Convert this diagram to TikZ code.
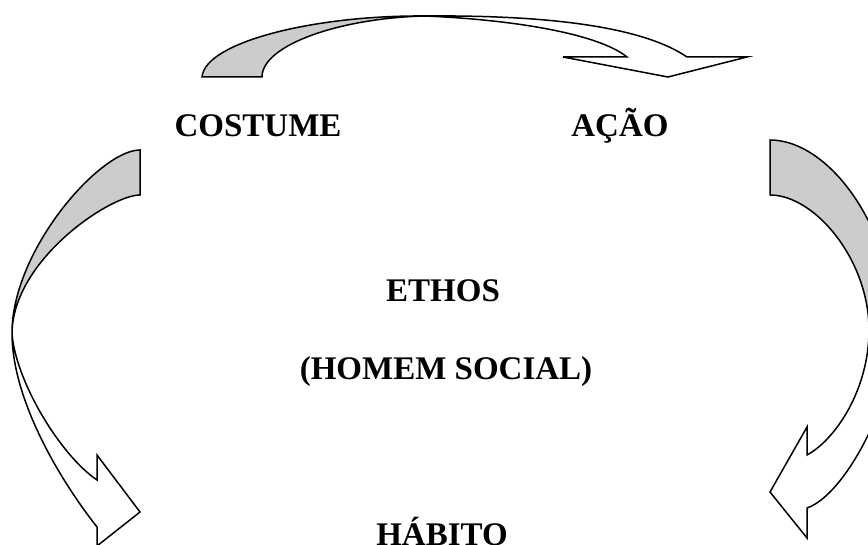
\documentclass[tikz,border=0pt]{standalone}
\usepackage{fontspec}
\setmainfont{Liberation Serif}
\definecolor{bandgray}{HTML}{CCCCCC}
\begin{document}
\begin{tikzpicture}[x=1pt,y=-1pt,
  grayband/.style={draw=black,line width=1.5pt,fill=bandgray,line join=miter},
  whiteband/.style={draw=black,line width=1.5pt,fill=white,line join=miter},
  lbl/.style={font=\fontsize{33}{40}\selectfont\bfseries,anchor=base,inner sep=0pt}]
\useasboundingbox (0,0) rectangle (868,545);
\clip (0,0) rectangle (868,545);
% top arrow
\path[grayband] (202,77) .. controls (205,42) and (315,15) .. (425,16)
  .. controls (340,18) and (262,45) .. (262,77) -- cycle;
\path[whiteband] (425,16) .. controls (540,15) and (640,25) .. (687,57)
  -- (747,57) -- (668,77) -- (563,57) -- (627,57)
  .. controls (600,35) and (520,20) .. (425,16) -- cycle;
% left arrow
\path[grayband] (140,150) .. controls (100,150) and (12,250) .. (12,333)
  .. controls (13,260) and (110,195) .. (140,195) -- cycle;
\path[whiteband] (12,333) .. controls (12,400) and (60,480) .. (97,527)
  -- (97,546) -- (140,512) -- (97,455) -- (97,480)
  .. controls (60,455) and (15,380) .. (12,333) -- cycle;
% right arrow
\path[grayband] (770,140) .. controls (830,140) and (895,230) .. (895,333)
  -- (869,330) .. controls (869,260) and (815,195) .. (770,195) -- cycle;
\path[whiteband] (895,333) .. controls (895,400) and (845,495) .. (807,508)
  -- (807,538) -- (770,492) -- (807,427) -- (807,455)
  .. controls (835,440) and (869,390) .. (869,330) -- cycle;
% labels
\node[lbl] (costume) at (258,137) {COSTUME};
\node[lbl] (acao) at (620,137) {AÇÃO};
\node[lbl] (ethos) at (443,302) {ETHOS};
\node[lbl] (homem) at (446,380) {(HOMEM SOCIAL)};
\node[lbl] (habito) at (442,545) {HÁBITO};
\end{tikzpicture}
\end{document}
